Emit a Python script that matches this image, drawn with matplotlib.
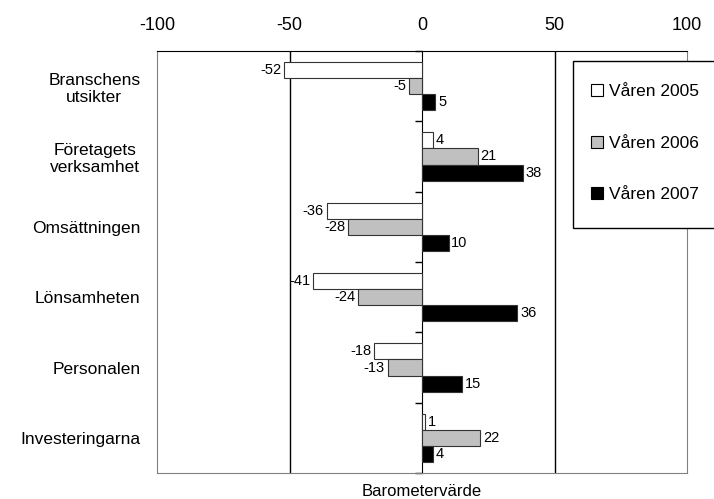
import numpy as np
import matplotlib
matplotlib.use('Agg')
import matplotlib.pyplot as plt
from matplotlib.patches import Rectangle

plt.rcParams['font.family'] = ['Liberation Sans', 'DejaVu Sans']

categories = ['Branschens\nutsikter', 'Företagets\nverksamhet', 'Omsättningen',
              'Lönsamheten', 'Personalen', 'Investeringarna']
series_names = ['Våren 2005', 'Våren 2006', 'Våren 2007']
v2005 = [-52, 4, -36, -41, -18, 1]
v2006 = [-5, 21, -28, -24, -13, 22]
v2007 = [5, 38, 10, 36, 15, 4]
colors = ['white', '#c0c0c0', 'black']

fig = plt.figure(figsize=(7.14, 4.99), dpi=100)
ax = fig.add_axes([157/714, 1-473/499, 530/714, 422/499])

y = np.arange(len(categories))
h = 0.23
for i, (vals, name, c) in enumerate(zip([v2005, v2006, v2007], series_names, colors)):
    bars = ax.barh(y + (i - 1) * h, vals, height=h, color=c, edgecolor='#333333',
                   linewidth=0.8, label=name, zorder=3)
    ax.bar_label(bars, padding=2, fontsize=10.5)

ax.set_xlim(-100, 100)
ax.set_ylim(len(categories) - 0.5, -0.5)
ax.set_xticks([-100, -50, 0, 50, 100])
ax.set_xticklabels(['-100', '-50', '0', '50', '100'])
ax.xaxis.tick_top()
ax.tick_params(axis='x', length=0, pad=12, labelsize=13)
ax.set_yticks(y)
ax.set_yticklabels(categories, multialignment='center')
ax.tick_params(axis='y', length=0, pad=12, labelsize=12.5)

for s in ['left', 'right', 'bottom']:
    ax.spines[s].set_color('#808080')
ax.spines['top'].set_color('black')
for xv in [-50, 50]:
    ax.axvline(xv, color='black', linewidth=1, zorder=1)

# zero line with ticks at the category boundaries
zero = ax.secondary_yaxis(0.5)
zero.spines['left'].set_color('black')
zero.spines['left'].set_zorder(4)
zero.set_yticks(np.arange(len(categories) + 1) - 0.5)
zero.set_yticklabels([])
zero.tick_params(length=5, width=1, color='black', direction='in')

ax.set_xlabel('Barometervärde', fontsize=12)
ax.xaxis.set_label_position('bottom')
ax.xaxis.labelpad = 8

fig.patches.append(Rectangle((573/714, 1-228/499), 0.25, 167/499, transform=fig.transFigure,
                             facecolor='white', edgecolor='black', linewidth=1, zorder=5))
leg = fig.legend(loc='upper left', bbox_to_anchor=(591/714, 1-84/499), frameon=False,
                 fontsize=12.5, handlelength=0.7, handleheight=0.7, handletextpad=0.35,
                 labelspacing=2.1, borderpad=0, borderaxespad=0)
leg.set_zorder(6)
for p in leg.get_patches():
    p.set_edgecolor('black')

fig.savefig('out.png', dpi=100)
